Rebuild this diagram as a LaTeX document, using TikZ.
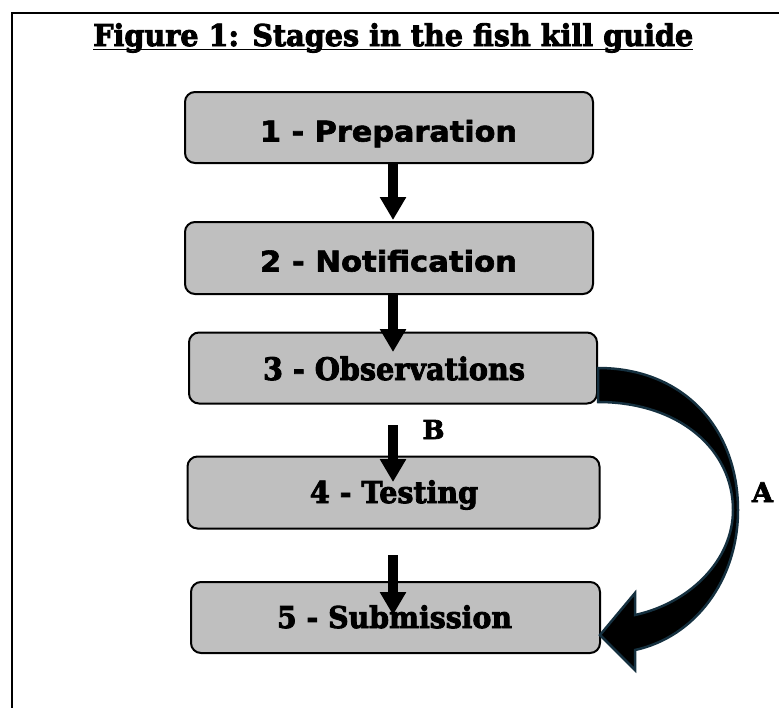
\documentclass[tikz,border=0pt]{standalone}
\usepackage{fontspec}
\usepackage{graphicx}
\usetikzlibrary{arrows.meta}
\newfontfamily\boxsans{DejaVu Sans}[BoldFeatures={FakeBold=2}]
\newfontfamily\fatserif{DejaVu Serif}[BoldFeatures={FakeBold=3}]
\definecolor{boxgray}{HTML}{BFBFBF}
\definecolor{tealedge}{HTML}{15303F}
\tikzset{
  stagebox/.style={draw=black, line width=2pt, fill=boxgray, rounded corners=10pt, inner sep=0pt},
  stagetext/.style={anchor=base, inner sep=0pt},
  blkarrow/.style={line width=10pt, -{Triangle[length=23pt,width=25pt]}},
  frameline/.style={line width=2.3pt, line cap=rect}
}
\begin{document}
\begin{tikzpicture}[x=1pt,y=-1pt]
\useasboundingbox (0,0) rectangle (779,707);
% frame
\coordinate (fl) at (12,707);
\coordinate (fc) at (12,13);
\coordinate (fr) at (779,13);
\draw[frameline] (fl) -- (fc) -- (fr);
% title
\node[anchor=base west, inner sep=0pt] (title) at (93,46)
  {\resizebox{600pt}{\height}{\fontsize{30}{30}\fatserif\bfseries Figure 1: Stages in the fish kill guide}};
\coordinate (ul1) at (93,49.5);
\coordinate (ul2) at (693,49.5);
\draw[line width=1.8pt] (ul1) -- (ul2);
% boxes
\node[stagebox, minimum width=408pt, minimum height=71pt] (n1) at (389,127.5) {};
\node[stagebox, minimum width=408pt, minimum height=72pt] (n2) at (389,258) {};
\node[stagebox, minimum width=408pt, minimum height=71pt] (n3) at (393,368) {};
\node[stagebox, minimum width=412pt, minimum height=72pt] (n4) at (393.5,492.5) {};
\node[stagebox, minimum width=409pt, minimum height=71pt] (n5) at (395.5,617.5) {};
% texts
\node[stagetext] (t1) at (388.5,141.5)
  {\resizebox{257pt}{\height}{\fontsize{28.5}{28.5}\boxsans\bfseries 1 - Preparation}};
\node[stagetext] (t2) at (388.5,271.5)
  {\resizebox{257pt}{\height}{\fontsize{28.5}{28.5}\boxsans\bfseries 2 - Notification}};
\node[stagetext] (t3) at (394,380)
  {\resizebox{262pt}{\height}{\fontsize{31}{31}\fatserif\bfseries 3 - Observations}};
\node[stagetext] (t4) at (394,503)
  {\resizebox{168pt}{\height}{\fontsize{30}{30}\fatserif\bfseries 4 - Testing}};
\node[stagetext] (t5) at (394.5,628)
  {\resizebox{235pt}{\height}{\fontsize{30}{30}\fatserif\bfseries 5 - Submission}};
% straight arrows
\coordinate (a1s) at (393,163);
\coordinate (a1e) at (393,220);
\coordinate (a2s) at (393,294);
\coordinate (a2e) at (393,352);
\coordinate (a3s) at (393,425);
\coordinate (a3e) at (393,482);
\coordinate (a4s) at (393,555);
\coordinate (a4e) at (393,615);
\draw[blkarrow] (a1s) -- (a1e);
\draw[blkarrow] (a2s) -- (a2e);
\draw[blkarrow] (a3s) -- (a3e);
\draw[blkarrow] (a4s) -- (a4e);
% curved arrow A
\draw[line width=2.5pt, draw=tealedge, fill=black, line join=miter]
  (598,368) .. controls (685,368) and (738,430) .. (738,510)
  .. controls (738,580) and (695,637) .. (635,650)
  -- (635,670) -- (600,635) -- (635,593) -- (635,615)
  .. controls (690,603) and (733,560) .. (733,510)
  .. controls (733,450) and (680,402) .. (598,402) -- cycle;
% labels
\node[stagetext] (lb) at (433.5,439)
  {\fontsize{26}{26}\fatserif\bfseries B};
\node[stagetext] (la) at (762.5,502)
  {\fontsize{27}{27}\fatserif\bfseries A};
\end{tikzpicture}
\end{document}
